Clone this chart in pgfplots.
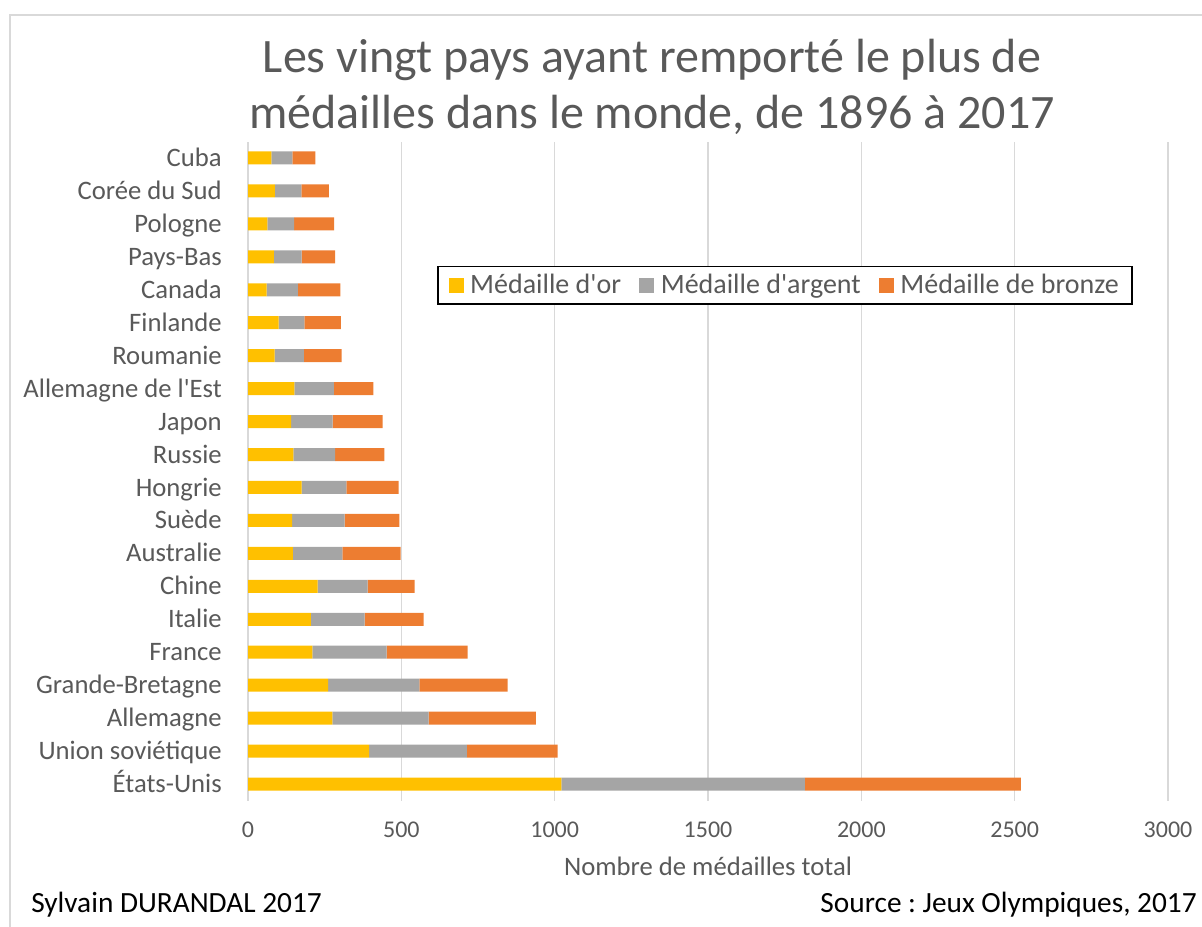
\documentclass[border=0pt]{standalone}
\usepackage{fontspec}
\setmainfont{Carlito}
\usepackage{pgfplots}
\usepackage{pgfplotstable}
\pgfplotsset{compat=1.18}
\frenchspacing

\definecolor{gold}{HTML}{FFC000}
\definecolor{argent}{HTML}{A5A5A5}
\definecolor{bronze}{HTML}{ED7D31}
\definecolor{txt}{HTML}{595959}
\definecolor{grille}{HTML}{D9D9D9}

% idx 0 = bottom bar
\pgfplotstableread{
idx gold silver bronze
0  1022 794 704
1  395  319 296
2  275  314 350
3  261  298 288
4  210  242 264
5  205  175 193
6  227  163 153
7  146  162 190
8  144  171 179
9  175  146 170
10 148  136 161
11 141  135 163
12 151  129 129
13 87   95  123
14 100  84  119
15 61   102 138
16 84   91  109
17 63   87  131
18 88   86  90
19 76   69  75
}\medailles

\pgfplotsset{
  sqlegend/.style={legend image code/.code={\fill[##1] (0pt,-5.6pt) rectangle (11.25pt,5.6pt);}},
}

\begin{document}
\begin{tikzpicture}[x=0.75pt,y=-0.75pt]
\useasboundingbox (0,0) rectangle (1202,926);
\begin{scope}
  \clip (0,0) rectangle (1202,926);
  \draw[grille, line width=1.5pt] (9.5,14.5) rectangle (1220,950);
\end{scope}

\node[anchor=base, inner sep=0pt, text=txt, font=\fontsize{36}{43}\selectfont] at (652,72) {Les vingt pays ayant remporté le plus de};
\node[anchor=base, inner sep=0pt, text=txt, font=\fontsize{36}{43}\selectfont] at (652,128) {médailles dans le monde, de 1896 à 2017};

\begin{axis}[
    at={(186pt,-600.375pt)}, anchor=south west,
    scale only axis,
    width=690pt, height=494.25pt,
    xbar stacked,
    bar width=9.75pt,
    xmin=0, xmax=3000,
    ymin=-0.5, ymax=19.5,
    enlargelimits=false,
    xtick={0,500,...,3000},
    ytick={0,...,19},
    yticklabels={États-Unis, Union soviétique, Allemagne, Grande-Bretagne, France,
      Italie, Chine, Australie, Suède, Hongrie, Russie, Japon, Allemagne de l\textquotesingle Est,
      Roumanie, Finlande, Canada, Pays-Bas, Pologne, Corée du Sud, Cuba},
    major tick length=0pt,
    axis line style={draw=none},
    xmajorgrids=true,
    grid style={grille, line width=1.1pt},
    /pgf/number format/1000 sep={},
    /pgf/number format/assume math mode=true,
    tick label style={text=txt, inner sep=0pt},
    yticklabel style={anchor=base east, xshift=-19.5pt, yshift=-6.4pt, font=\fontsize{20}{24}\selectfont},
    xticklabel style={anchor=base, yshift=-28.1pt, font=\fontsize{18}{22}\selectfont},
    xlabel={Nombre de médailles total},
    xlabel style={at={(axis description cs:0.5,0)}, anchor=base, yshift=-56.6pt,
      text=txt, font=\fontsize{20}{24}\selectfont, inner sep=0pt},
    legend columns=3,
    legend style={at={(rel axis cs:0.5837,0.782)}, anchor=center,
      draw=black, line width=1.1pt, fill=white,
      font=\fontsize{21}{25}\selectfont, text=txt,
      inner xsep=8pt, inner ysep=4pt,
      nodes={inner sep=2pt, anchor=west},
      /tikz/every odd column/.append style={column sep=3pt},
      /tikz/every even column/.append style={column sep=11.5pt}},
    legend cell align=left,
]
\addplot[fill=gold, draw=none, sqlegend] table[x=gold, y=idx] {\medailles};
\addplot[fill=argent, draw=none, sqlegend] table[x=silver, y=idx] {\medailles};
\addplot[fill=bronze, draw=none, sqlegend] table[x=bronze, y=idx] {\medailles};
\legend{Médaille d\textquotesingle or, Médaille d\textquotesingle argent, Médaille de bronze}
\end{axis}

\node[anchor=base west, inner sep=0pt, text=black, font=\fontsize{22}{26}\selectfont] at (31,912) {Sylvain DURANDAL 2017};
\node[anchor=base east, inner sep=0pt, text=black, font=\fontsize{22}{26}\selectfont] at (1197,912) {Source : Jeux Olympiques, 2017};
\end{tikzpicture}
\end{document}
